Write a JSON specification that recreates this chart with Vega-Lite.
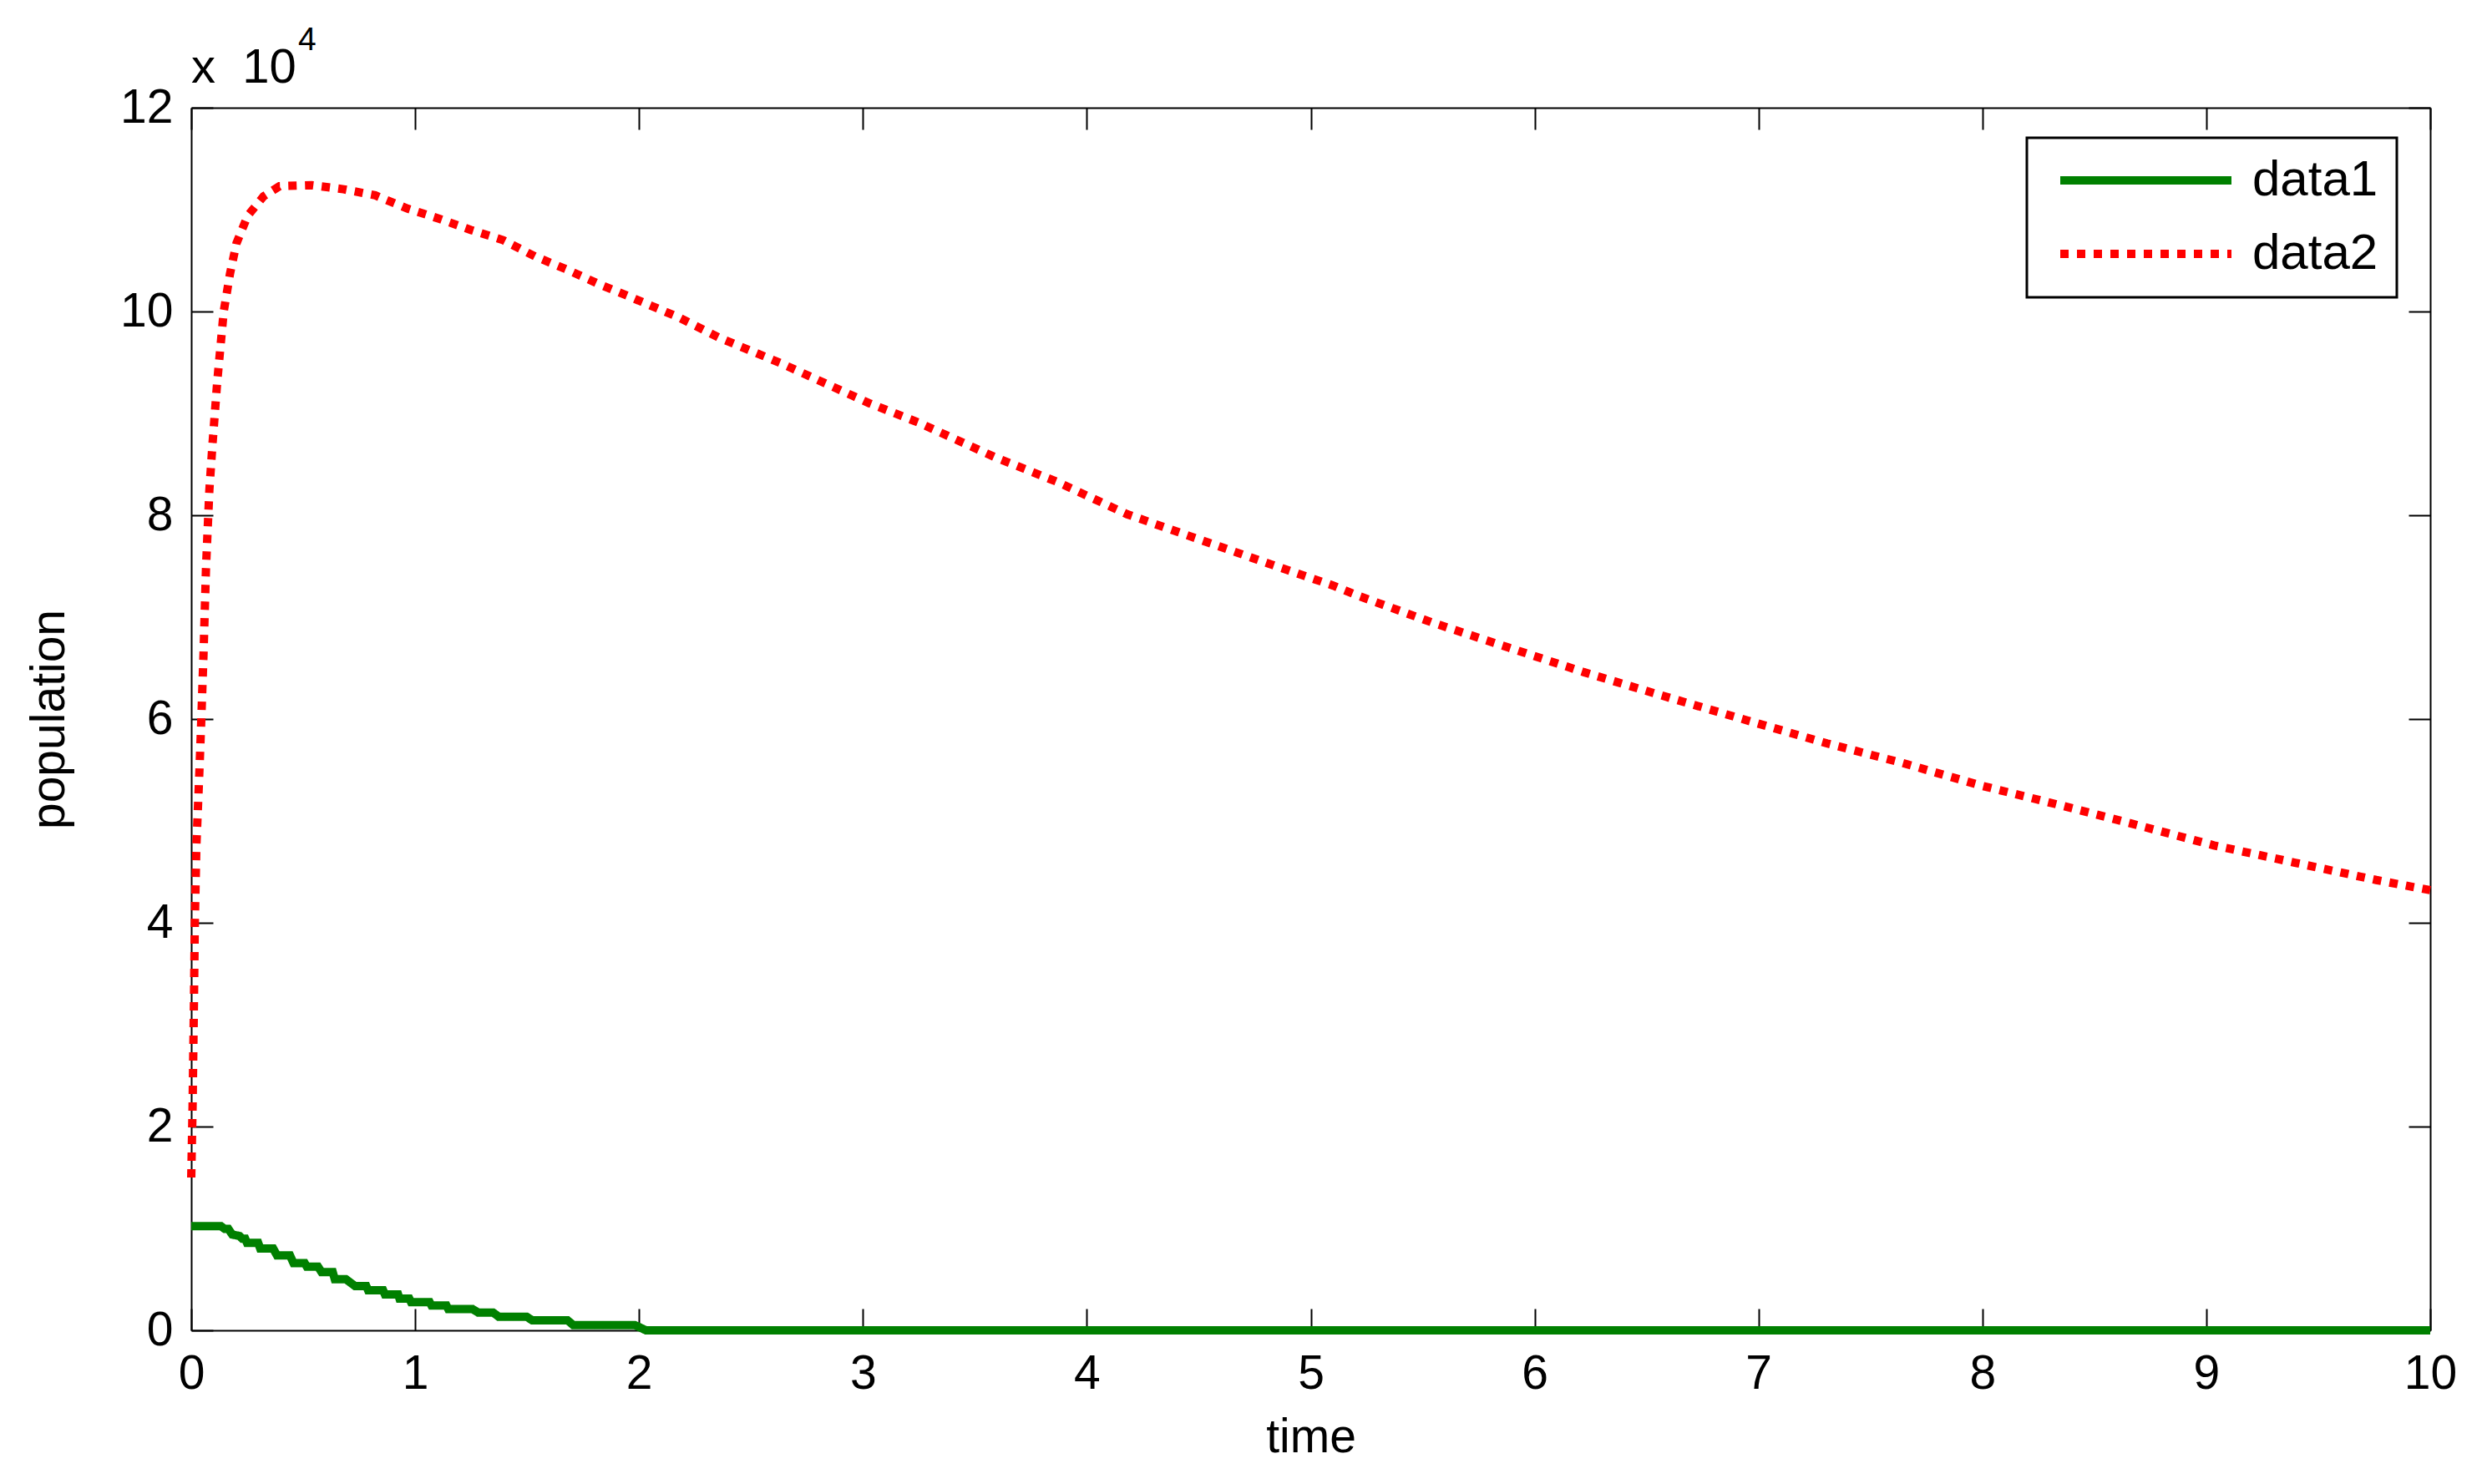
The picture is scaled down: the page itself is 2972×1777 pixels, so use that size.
{
  "$schema": "https://vega.github.io/schema/vega-lite/v6.json",
  "width": 2681,
  "height": 1464,
  "autosize": {"type": "none"},
  "padding": {"left": 229, "top": 129, "right": 62, "bottom": 184},
  "background": "white",
  "config": {
    "view": {"stroke": null},
    "font": "Liberation Sans",
    "axis": {
      "domainColor": "black",
      "domainWidth": 2,
      "tickColor": "black",
      "tickWidth": 2,
      "tickSize": -26,
      "grid": false,
      "labelFont": "Liberation Sans",
      "labelFontSize": 57,
      "labelColor": "black",
      "labelFlush": false,
      "labelOverlap": false,
      "titleFont": "Liberation Sans",
      "titleFontSize": 57,
      "titleFontWeight": "normal",
      "titleColor": "black"
    },
    "legend": {
      "orient": "none",
      "legendX": 2198,
      "legendY": 36,
      "strokeColor": "black",
      "strokeWidth": 3,
      "fillColor": "white",
      "padding": 22,
      "clipHeight": 58,
      "symbolType": "stroke",
      "symbolSize": 42025,
      "symbolStrokeWidth": 10,
      "symbolOffset": 13,
      "labelFont": "Liberation Sans",
      "labelFontSize": 60,
      "labelColor": "black",
      "labelOffset": 20,
      "rowPadding": 28
    }
  },
  "datasets": {
    "curves": [
      {"series": "data1", "time": 0, "population": 10220},
      {"series": "data1", "time": 0.133, "population": 10220},
      {"series": "data1", "time": 0.15, "population": 9950},
      {"series": "data1", "time": 0.166, "population": 9950},
      {"series": "data1", "time": 0.183, "population": 9400},
      {"series": "data1", "time": 0.216, "population": 9260},
      {"series": "data1", "time": 0.228, "population": 8990},
      {"series": "data1", "time": 0.241, "population": 8990},
      {"series": "data1", "time": 0.249, "population": 8580},
      {"series": "data1", "time": 0.299, "population": 8580},
      {"series": "data1", "time": 0.308, "population": 8030},
      {"series": "data1", "time": 0.366, "population": 8030},
      {"series": "data1", "time": 0.383, "population": 7350},
      {"series": "data1", "time": 0.441, "population": 7350},
      {"series": "data1", "time": 0.457, "population": 6590},
      {"series": "data1", "time": 0.507, "population": 6590},
      {"series": "data1", "time": 0.516, "population": 6260},
      {"series": "data1", "time": 0.566, "population": 6260},
      {"series": "data1", "time": 0.582, "population": 5710},
      {"series": "data1", "time": 0.632, "population": 5710},
      {"series": "data1", "time": 0.641, "population": 5030},
      {"series": "data1", "time": 0.69, "population": 5030},
      {"series": "data1", "time": 0.71, "population": 4700},
      {"series": "data1", "time": 0.732, "population": 4340},
      {"series": "data1", "time": 0.782, "population": 4340},
      {"series": "data1", "time": 0.79, "population": 3930},
      {"series": "data1", "time": 0.857, "population": 3930},
      {"series": "data1", "time": 0.865, "population": 3520},
      {"series": "data1", "time": 0.924, "population": 3520},
      {"series": "data1", "time": 0.93, "population": 3120},
      {"series": "data1", "time": 0.974, "population": 3120},
      {"series": "data1", "time": 0.982, "population": 2760},
      {"series": "data1", "time": 1.065, "population": 2760},
      {"series": "data1", "time": 1.073, "population": 2430},
      {"series": "data1", "time": 1.14, "population": 2430},
      {"series": "data1", "time": 1.148, "population": 2080},
      {"series": "data1", "time": 1.257, "population": 2080},
      {"series": "data1", "time": 1.281, "population": 1750},
      {"series": "data1", "time": 1.348, "population": 1750},
      {"series": "data1", "time": 1.373, "population": 1340},
      {"series": "data1", "time": 1.498, "population": 1340},
      {"series": "data1", "time": 1.523, "population": 980},
      {"series": "data1", "time": 1.681, "population": 980},
      {"series": "data1", "time": 1.706, "population": 520},
      {"series": "data1", "time": 1.981, "population": 520},
      {"series": "data1", "time": 2.031, "population": 0},
      {"series": "data1", "time": 10, "population": 0},
      {"series": "data2", "time": 0, "population": 15000},
      {"series": "data2", "time": 0.006, "population": 22000},
      {"series": "data2", "time": 0.012, "population": 32000},
      {"series": "data2", "time": 0.016, "population": 40000},
      {"series": "data2", "time": 0.023, "population": 47600},
      {"series": "data2", "time": 0.037, "population": 55200},
      {"series": "data2", "time": 0.045, "population": 60000},
      {"series": "data2", "time": 0.055, "population": 66500},
      {"series": "data2", "time": 0.066, "population": 74900},
      {"series": "data2", "time": 0.081, "population": 82500},
      {"series": "data2", "time": 0.095, "population": 87000},
      {"series": "data2", "time": 0.116, "population": 93100},
      {"series": "data2", "time": 0.145, "population": 100000},
      {"series": "data2", "time": 0.173, "population": 103700},
      {"series": "data2", "time": 0.202, "population": 106700},
      {"series": "data2", "time": 0.252, "population": 109400},
      {"series": "data2", "time": 0.323, "population": 111300},
      {"series": "data2", "time": 0.394, "population": 112300},
      {"series": "data2", "time": 0.537, "population": 112400},
      {"series": "data2", "time": 0.68, "population": 112000},
      {"series": "data2", "time": 0.822, "population": 111400},
      {"series": "data2", "time": 0.966, "population": 110100},
      {"series": "data2", "time": 1.108, "population": 109100},
      {"series": "data2", "time": 1.25, "population": 108000},
      {"series": "data2", "time": 1.393, "population": 107000},
      {"series": "data2", "time": 1.536, "population": 105400},
      {"series": "data2", "time": 1.68, "population": 104100},
      {"series": "data2", "time": 1.82, "population": 102700},
      {"series": "data2", "time": 1.964, "population": 101400},
      {"series": "data2", "time": 2.18, "population": 99400},
      {"series": "data2", "time": 2.361, "population": 97400},
      {"series": "data2", "time": 2.636, "population": 94900},
      {"series": "data2", "time": 3.028, "population": 91000},
      {"series": "data2", "time": 3.248, "population": 89100},
      {"series": "data2", "time": 3.59, "population": 85700},
      {"series": "data2", "time": 3.865, "population": 83300},
      {"series": "data2", "time": 4.18, "population": 80100},
      {"series": "data2", "time": 4.532, "population": 77400},
      {"series": "data2", "time": 4.859, "population": 74900},
      {"series": "data2", "time": 5.1, "population": 73100},
      {"series": "data2", "time": 5.212, "population": 72100},
      {"series": "data2", "time": 5.552, "population": 69400},
      {"series": "data2", "time": 5.885, "population": 67000},
      {"series": "data2", "time": 6.22, "population": 64600},
      {"series": "data2", "time": 6.554, "population": 62400},
      {"series": "data2", "time": 6.944, "population": 59900},
      {"series": "data2", "time": 7.307, "population": 57600},
      {"series": "data2", "time": 7.641, "population": 55700},
      {"series": "data2", "time": 7.989, "population": 53500},
      {"series": "data2", "time": 8.337, "population": 51600},
      {"series": "data2", "time": 8.672, "population": 49700},
      {"series": "data2", "time": 9.034, "population": 47600},
      {"series": "data2", "time": 9.396, "population": 45900},
      {"series": "data2", "time": 9.759, "population": 44200},
      {"series": "data2", "time": 10, "population": 43200}
    ]
  },
  "layer": [
    {
      "data": {"name": "curves"},
      "mark": {"type": "line", "strokeWidth": 10, "strokeCap": "butt"},
      "encoding": {
        "x": {
          "field": "time",
          "type": "quantitative",
          "scale": {"domain": [0, 10], "nice": false},
          "axis": {
            "orient": "bottom",
            "title": "time",
            "values": [0, 1, 2, 3, 4, 5, 6, 7, 8, 9, 10],
            "labelPadding": 50,
            "titlePadding": 20
          }
        },
        "y": {
          "field": "population",
          "type": "quantitative",
          "scale": {"domain": [0, 120000], "nice": false, "zero": true},
          "axis": {
            "orient": "left",
            "title": "population",
            "values": [0, 20000, 40000, 60000, 80000, 100000, 120000],
            "labelExpr": "datum.value / 10000",
            "labelPadding": 48,
            "titlePadding": 55
          }
        },
        "color": {
          "field": "series",
          "type": "nominal",
          "scale": {"domain": ["data1", "data2"], "range": ["#008000", "#ff0000"]},
          "legend": {"title": null}
        },
        "strokeDash": {
          "field": "series",
          "type": "nominal",
          "scale": {"domain": ["data1", "data2"], "range": [[1, 0], [10, 10]]},
          "legend": {"title": null}
        }
      }
    },
    {
      "data": {"name": "curves"},
      "mark": {"type": "line", "opacity": 0},
      "encoding": {
        "x": {
          "field": "time",
          "type": "quantitative",
          "axis": {
            "orient": "top",
            "title": null,
            "labels": false,
            "values": [0, 1, 2, 3, 4, 5, 6, 7, 8, 9, 10]
          }
        },
        "y": {
          "field": "population",
          "type": "quantitative",
          "axis": {
            "orient": "right",
            "title": null,
            "labels": false,
            "values": [0, 20000, 40000, 60000, 80000, 100000, 120000]
          }
        },
        "detail": {"field": "series", "type": "nominal"}
      }
    },
    {
      "data": {"values": [{"time": 0, "population": 120000, "label": "x\u00a0\u00a010"}]},
      "mark": {"type": "text", "align": "left", "baseline": "alphabetic", "dy": -30, "fontSize": 58, "font": "Liberation Sans", "color": "black"},
      "encoding": {
        "x": {"field": "time", "type": "quantitative", "axis": null},
        "y": {"field": "population", "type": "quantitative", "axis": null},
        "text": {"field": "label"}
      }
    },
    {
      "data": {"values": [{"time": 0, "population": 120000, "label": "4"}]},
      "mark": {"type": "text", "align": "left", "baseline": "alphabetic", "dx": 128, "dy": -69, "fontSize": 39, "font": "Liberation Sans", "color": "black"},
      "encoding": {
        "x": {"field": "time", "type": "quantitative", "axis": null},
        "y": {"field": "population", "type": "quantitative", "axis": null},
        "text": {"field": "label"}
      }
    }
  ],
  "resolve": {"axis": {"x": "independent", "y": "independent"}}
}
